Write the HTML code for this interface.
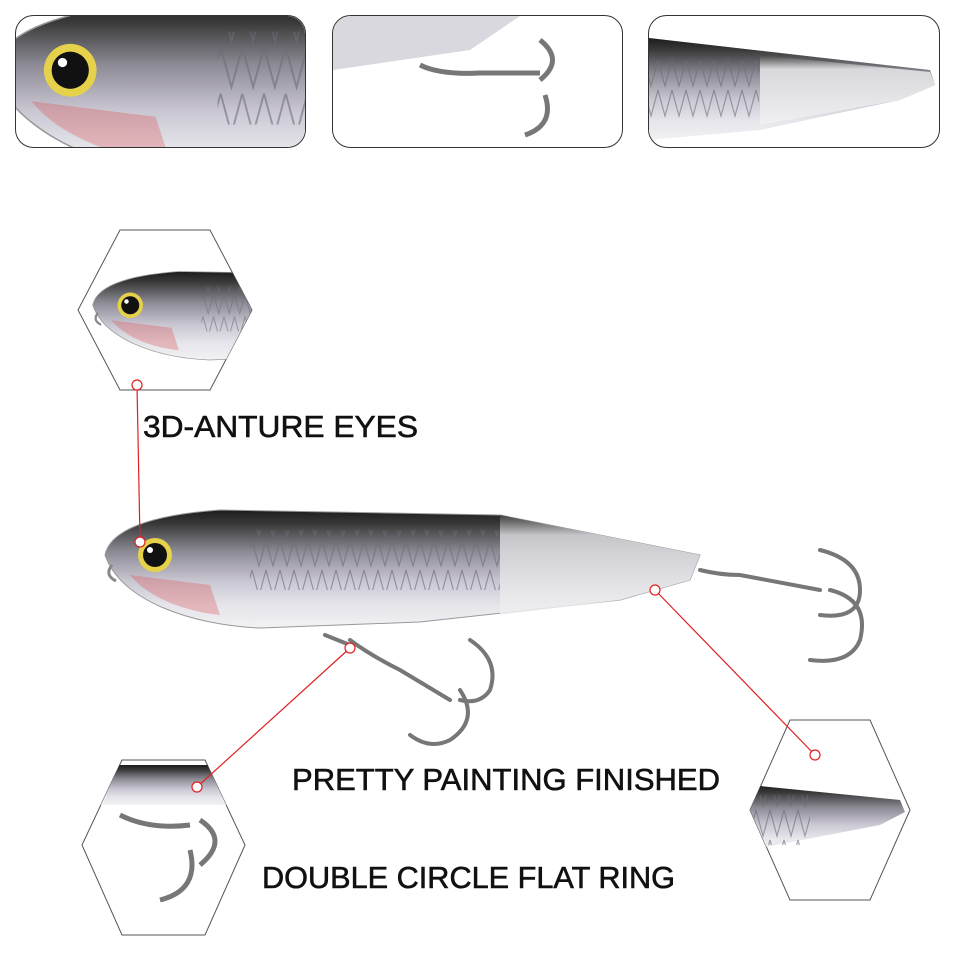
<!DOCTYPE html>
<html><head><meta charset="utf-8"><style>
html,body{margin:0;padding:0;background:#fff;}
svg{display:block}
text{font-family:"Liberation Sans",sans-serif;fill:#111;stroke:#111;stroke-width:0.6;}
</style></head><body>
<svg width="960" height="960" viewBox="0 0 960 960" xmlns="http://www.w3.org/2000/svg">
<defs>
<linearGradient id="body" x1="0" y1="0" x2="0" y2="1">
<stop offset="0" stop-color="#1c1c1c"/>
<stop offset="0.12" stop-color="#3a3a3a"/>
<stop offset="0.35" stop-color="#8c8a94"/>
<stop offset="0.6" stop-color="#c9c6d2"/>
<stop offset="0.8" stop-color="#e4e4ea"/>
<stop offset="1" stop-color="#f2f2f4"/>
</linearGradient>
<linearGradient id="tail" x1="0" y1="0" x2="0" y2="1">
<stop offset="0" stop-color="#444"/>
<stop offset="0.2" stop-color="#d8d8dc"/>
<stop offset="1" stop-color="#f0f0f2"/>
</linearGradient>
<pattern id="scales" width="14" height="30" patternUnits="userSpaceOnUse">
<path d="M0 0 L7 26 L14 0" fill="none" stroke="#6c6a78" stroke-width="1.2" opacity="0.6"/>
</pattern>
<g id="lure">
<path d="M105 555 C110 530 150 515 220 510 L500 515 L700 555 L690 580 L620 600 L420 622 L260 628 C190 625 120 600 105 555 Z" fill="url(#body)" stroke="#999" stroke-width="1"/>
<path d="M500 515 L700 555 L690 580 L620 600 L500 615 Z" fill="url(#tail)" opacity="0.85"/>
<rect x="250" y="530" width="250" height="60" fill="url(#scales)"/>
<path d="M130 575 C150 600 190 612 220 615 L210 585 Z" fill="#d94a4a" opacity="0.3"/>
<circle cx="155" cy="555" r="17" fill="#e6d24a"/>
<circle cx="155" cy="555" r="12" fill="#111"/>
<circle cx="150" cy="550" r="3" fill="#fff"/>
<path d="M112 565 q-8 10 4 16" fill="none" stroke="#888" stroke-width="3"/>
</g>
</defs>

<rect x="15.5" y="15.5" width="290" height="132" rx="18" fill="#fff" stroke="#333"/>
<rect x="332.5" y="15.5" width="290" height="132" rx="18" fill="#fff" stroke="#333"/>
<rect x="648.5" y="15.5" width="291" height="132" rx="18" fill="#fff" stroke="#333"/>
<clipPath id="c1"><rect x="16" y="16" width="289" height="131" rx="18"/></clipPath>
<clipPath id="c2"><rect x="333" y="16" width="289" height="131" rx="18"/></clipPath>
<clipPath id="c3"><rect x="649" y="16" width="290" height="131" rx="18"/></clipPath>
<g clip-path="url(#c1)"><use href="#lure" transform="translate(-170,-790) scale(1.55)"/></g>
<g clip-path="url(#c2)">
<path d="M333 16 L520 16 L470 50 L333 70 Z" fill="#d8d8de"/>
<path d="M420 65 q20 10 60 8 l60 0 M540 40 q25 20 0 40 M525 135 q30 -10 20 -40" fill="none" stroke="#777" stroke-width="5"/>
</g>
<g clip-path="url(#c3)">
<path d="M649 38 L930 70 L935 85 L900 100 L760 130 L649 140 Z" fill="url(#body)"/>
<rect x="649" y="60" width="110" height="60" fill="url(#scales)"/>
<path d="M760 55 L930 72 L935 85 L900 100 L760 125 Z" fill="url(#tail)"/>
</g>

<polygon points="120,230 210,230 252,310 210,390 120,390 78,310" fill="#fff" stroke="#555"/>
<clipPath id="h1"><polygon points="120,230 210,230 252,310 210,390 120,390 78,310"/></clipPath>
<g clip-path="url(#h1)"><use href="#lure" transform="translate(14,-111) scale(0.75)"/></g>

<polygon points="122,760 205,760 245,845 205,935 122,935 82,845" fill="#fff" stroke="#555"/>
<clipPath id="h2"><polygon points="122,760 205,760 245,845 205,935 122,935 82,845"/></clipPath>
<g clip-path="url(#h2)">
<rect x="95" y="765" width="150" height="40" fill="url(#body)"/>
<path d="M120 815 q30 15 70 10 M200 820 q30 20 0 45 M160 900 q40 -10 30 -50" fill="none" stroke="#777" stroke-width="5"/>
</g>

<polygon points="790,720 870,720 910,810 870,900 790,900 750,810" fill="#fff" stroke="#555"/>
<clipPath id="h3"><polygon points="790,720 870,720 910,810 870,900 790,900 750,810"/></clipPath>
<g clip-path="url(#h3)">
<path d="M750 785 L900 800 L905 812 L880 825 L750 850 Z" fill="url(#body)"/>
<rect x="750" y="795" width="60" height="50" fill="url(#scales)"/>
</g>

<use href="#lure"/>
<g fill="none" stroke="#777" stroke-width="4" stroke-linecap="round">
<path d="M700 570 q20 5 40 5 l80 15"/>
<path d="M820 550 q40 10 40 40 q0 30 -40 25"/>
<path d="M830 590 q40 10 30 50 q-10 25 -50 20"/>
<path d="M350 640 q20 15 50 30 l50 30"/>
<path d="M470 640 q30 20 20 50 q-10 15 -30 10"/>
<path d="M460 690 q20 30 -10 50 q-20 10 -40 -5"/>
<path d="M325 635 l25 10"/>
</g>

<g stroke="#e02020" stroke-width="1.2" fill="#fff">
<line x1="137" y1="385" x2="140" y2="540"/>
<line x1="350" y1="648" x2="197" y2="787"/>
<line x1="655" y1="590" x2="815" y2="755"/>
<circle cx="137" cy="385" r="5"/>
<circle cx="140" cy="542" r="5"/>
<circle cx="350" cy="648" r="5"/>
<circle cx="197" cy="787" r="5"/>
<circle cx="655" cy="590" r="5"/>
<circle cx="815" cy="755" r="5"/>
</g>

<text x="143" y="437" font-size="31" textLength="275" lengthAdjust="spacingAndGlyphs">3D-ANTURE EYES</text>
<text x="292" y="790" font-size="31" textLength="428" lengthAdjust="spacingAndGlyphs">PRETTY PAINTING FINISHED</text>
<text x="262" y="888" font-size="31" textLength="413" lengthAdjust="spacingAndGlyphs">DOUBLE CIRCLE FLAT RING</text>
</svg>
</body></html>
